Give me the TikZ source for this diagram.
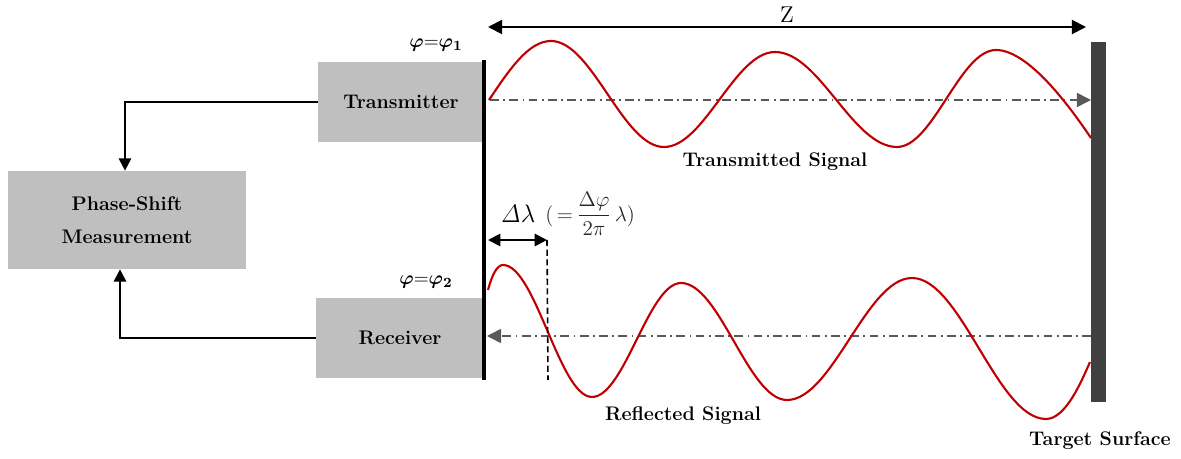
\documentclass[tikz,border=0pt]{standalone}
\usepackage{bm}
\usetikzlibrary{arrows.meta,calc}
\definecolor{boxgray}{HTML}{BFBFBF}
\definecolor{targetgray}{HTML}{404040}
\definecolor{axisgray}{HTML}{595959}
\definecolor{wavered}{HTML}{C00000}
\begin{document}
\begin{tikzpicture}[
  x=0.02cm, y=-0.02cm,
  font=\fontsize{11.2}{13.5}\selectfont\bfseries,
  block/.style={
    fill=boxgray,
    inner sep=0pt,
    align=center
  },
  link/.style={
    line width=1.1pt,
    -{Triangle[length=7pt,width=7pt]}
  },
  axisline/.style={
    axisgray,
    line width=0.9pt,
    dash pattern=on 5pt off 2.5pt on 1pt off 2.5pt
  },
  wave/.style={
    wavered,
    line width=1.2pt
  },
  siglabel/.style={
    font=\fontsize{11.2}{13.5}\selectfont\bfseries,
    inner sep=1pt
  }
]

  \useasboundingbox (0,0) rectangle (1181,459);

  % Processing blocks.
  \node[block, minimum width=4.76cm, minimum height=1.96cm] (meas) at (127,220) {Phase-Shift\\[5pt]Measurement};
  \node[block, minimum width=3.32cm, minimum height=1.6cm] (tx) at (401,102) {Transmitter};
  \node[block, minimum width=3.36cm, minimum height=1.6cm] (rx) at (400,338) {Receiver};

  % Emitter plate and target surface.
  \coordinate (plateTop) at (484,60);
  \coordinate (plateBot) at (484,380);
  \draw[line width=2.8pt] (plateTop) -- (plateBot);
  \fill[targetgray] (1091,42) rectangle (1106,402);

  % Distance to the target.
  \coordinate (zL) at (488,27);
  \coordinate (zR) at (1086,27);
  \draw[line width=1.1pt, {Triangle[length=8pt,width=8pt]}-{Triangle[length=8pt,width=8pt]}] (zL) -- (zR);
  \node[font=\fontsize{13}{15}\selectfont] (zlabel) at (787,15) {Z};

  % Phase labels.
  \node (phiA) at (436,45) {$\bm{\varphi}\mathbf{=}\bm{\varphi}_{\mathbf{1}}$};
  \node (phiB) at (426,282) {$\bm{\varphi}\mathbf{=}\bm{\varphi}_{\mathbf{2}}$};

  % Signal paths into the measurement block.
  \draw[link] (tx.west) -| ($(meas.north)+(-2,0)$);
  \draw[link] (rx.west) -| ($(meas.south)+(-7,0)$);

  % Propagation axes.
  \coordinate (txStart) at (490,100);
  \coordinate (txEnd) at (1091,100);
  \coordinate (rxStart) at (1091,336);
  \coordinate (rxEnd) at (487,336);
  \draw[axisline, -{Triangle[length=8pt,width=8pt]}] (txStart) -- (txEnd);
  \draw[axisline, -{Triangle[length=8pt,width=8pt]}] (rxStart) -- (rxEnd);

  % Transmitted wave, from extremum to extremum.
  \draw[wave] (489,100)
    .. controls (509.7,69) and (528.7,41) .. (551,41)
    .. controls (592.2,41) and (622.8,147) .. (664,147)
    .. controls (704.4,147) and (734.6,52) .. (775,52)
    .. controls (819.4,52) and (852.6,147) .. (897,147)
    .. controls (933.1,147) and (959.9,50) .. (996,50)
    .. controls (1031,50) and (1076,116) .. (1091,138);

  % Reflected wave.
  \draw[wave] (488,290)
    .. controls (492,275) and (497,265) .. (503,265)
    .. controls (535.4,265) and (559.6,397) .. (592,397)
    .. controls (624.4,397) and (648.6,283) .. (681,283)
    .. controls (719.6,283) and (748.4,400) .. (787,400)
    .. controls (832.5,400) and (866.5,278) .. (912,278)
    .. controls (960.8,278) and (997.2,419) .. (1046,419)
    .. controls (1066,419) and (1082,380) .. (1090,362);

  % Phase offset.
  \coordinate (dlL) at (488,240);
  \coordinate (dlR) at (547,240);
  \coordinate (dlBot) at (548,380);
  \draw[line width=1.1pt, {Triangle[length=7pt,width=7pt]}-{Triangle[length=7pt,width=7pt]}] (dlL) -- (dlR);
  \draw[line width=0.9pt, dash pattern=on 3.5pt off 2pt] (dlR) -- (dlBot);
  \node[font=\fontsize{13.5}{16}\selectfont] (dlabel) at (518,214) {$\mathit{\Delta}\lambda$};
  \node[font=\fontsize{12.5}{15}\selectfont, text=black!85, anchor=west, inner sep=0pt] (dformula) at (545,214)
    {$(\,{=}\,\displaystyle\frac{\Delta\varphi}{2\pi}\,\lambda)$};

  % Signal names.
  \node[siglabel] (txlabel) at (775,162) {Transmitted Signal};
  \node[siglabel] (rxlabel) at (683,416) {Reflected Signal};
  \node[siglabel] (tglabel) at (1100,441) {Target Surface};

\end{tikzpicture}
\end{document}
